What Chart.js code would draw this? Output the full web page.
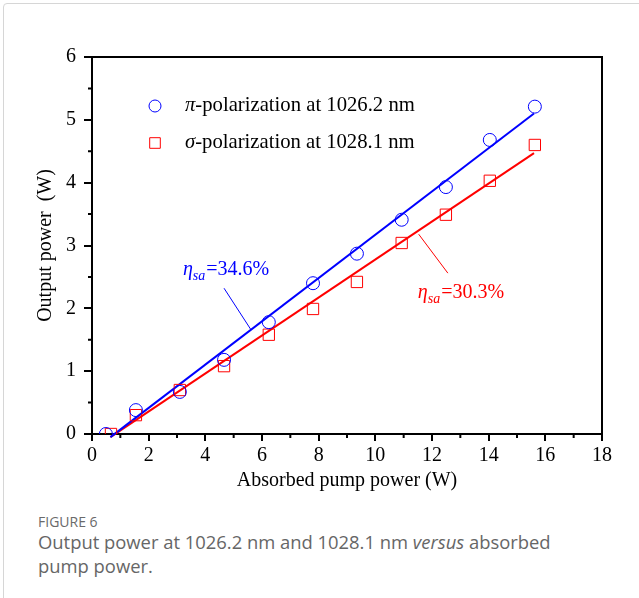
<!DOCTYPE html>
<html><head><meta charset="utf-8">
<script src="https://cdn.jsdelivr.net/npm/chart.js@4"></script>
<style>
html,body{margin:0;padding:0;background:#fff;}
body{width:639px;height:598px;position:relative;overflow:hidden;}
#frame{position:absolute;left:3px;top:3px;width:700px;height:700px;border:1px solid #d6d6d6;border-radius:4px;}
#wrap{position:absolute;left:0;top:0;width:639px;height:500px;}
.cap{position:absolute;left:38px;font-family:"Open Sans",sans-serif;color:#666;white-space:nowrap;}
</style></head><body>
<div id="frame"></div>
<div id="wrap"><canvas id="c" width="639" height="500"></canvas></div>
<div class="cap" style="top:512px;font-size:14px;line-height:20px;color:#6a6a6a">FIGURE 6</div>
<div class="cap" style="top:530px;font-size:18.4px;line-height:24px;">Output power at 1026.2 nm and 1028.1 nm <i>versus</i> absorbed<br>pump power.</div>
<script>
// ---- data ----
const seriesLabels = ['π-polarization at 1026.2 nm', 'σ-polarization at 1028.1 nm'];
const pumpPi     = [0.49, 1.55, 3.10, 4.66, 6.24, 7.80, 9.35, 10.93, 12.49, 14.04, 15.63];
const powerPi    = [0.00, 0.38, 0.67, 1.18, 1.78, 2.40, 2.87, 3.41, 3.93, 4.68, 5.21];
const pumpSigma  = [0.67, 1.55, 3.10, 4.66, 6.24, 7.80, 9.35, 10.93, 12.49, 14.04, 15.63];
const powerSigma = [0.00, 0.30, 0.70, 1.08, 1.58, 1.99, 2.42, 3.04, 3.49, 4.03, 4.60];
const fitPiX = [0.65, 15.60];
const fitPiY = [-0.05, 5.10];
const fitSigmaX = [0.65, 15.60];
const fitSigmaY = [-0.05, 4.47];
const slopeLabels = ['34.6%', '30.3%'];
const slopeTextAt = [[3.21, 2.53], [11.50, 2.17]];
const slopeLeader = [[[4.66, 2.32], [5.61, 1.66]], [[11.53, 3.18], [12.56, 2.56]]];
const xTickValues = [0, 2, 4, 6, 8, 10, 12, 14, 16, 18];
const yTickValues = [0, 1, 2, 3, 4, 5, 6];
const xMinorTicks = [1, 3, 5, 7, 9, 11, 13, 15, 17];
const yMinorTicks = [0.5, 1.5, 2.5, 3.5, 4.5, 5.5];
const xTitle = 'Absorbed pump power (W)';
const yTitle = 'Output power  (W)';

const BLUE = '#0000ff', RED = '#ff0000';
const SERIF = '"Liberation Serif", "Times New Roman", serif';
const toXY = (xs, ys) => xs.map((x, i) => ({x, y: ys[i]}));

const framePlugin = {
  id: 'frame',
  afterDatasetsDraw(chart) {
    const {ctx, chartArea: a, scales: {x, y}} = chart;
    ctx.save();
    ctx.strokeStyle = '#000';
    ctx.lineWidth = 2;
    ctx.beginPath();
    ctx.moveTo(a.left, a.top); ctx.lineTo(a.right, a.top); ctx.lineTo(a.right, a.bottom);
    xMinorTicks.forEach(v => { const p = x.getPixelForValue(v); ctx.moveTo(p, a.bottom); ctx.lineTo(p, a.bottom + 4); });
    yMinorTicks.forEach(v => { const p = y.getPixelForValue(v); ctx.moveTo(a.left, p); ctx.lineTo(a.left - 4, p); });
    ctx.stroke();

    // legend
    const rows = [{ds: chart.data.datasets[0], dy: 49}, {ds: chart.data.datasets[1], dy: 86}];
    rows.forEach((r, i) => {
      const cx = a.left + 63, cy = a.top + r.dy;
      ctx.strokeStyle = r.ds.borderColor; ctx.fillStyle = 'rgba(0,0,0,0)'; ctx.lineWidth = 1;
      Chart.helpers.drawPoint(ctx, {pointStyle: r.ds.pointStyle, radius: i === 0 ? 6 : 7.5, borderWidth: 1}, cx, cy);
      const label = r.ds.label;
      ctx.fillStyle = '#000';
      ctx.textBaseline = 'middle';
      ctx.textAlign = 'left';
      let tx = a.left + 93;
      ctx.font = 'italic 20.7px ' + SERIF;
      ctx.fillText(label[0], tx, cy);
      tx += ctx.measureText(label[0]).width;
      ctx.font = '20.7px ' + SERIF;
      ctx.fillText(label.slice(1), tx, cy);
    });

    // slope annotations
    const colors = [BLUE, RED];
    slopeLabels.forEach((lab, i) => {
      ctx.strokeStyle = colors[i]; ctx.fillStyle = colors[i]; ctx.lineWidth = 1;
      const [[x1, y1], [x2, y2]] = slopeLeader[i];
      ctx.beginPath();
      ctx.moveTo(x.getPixelForValue(x1), y.getPixelForValue(y1));
      ctx.lineTo(x.getPixelForValue(x2), y.getPixelForValue(y2));
      ctx.stroke();
      let tx = x.getPixelForValue(slopeTextAt[i][0]);
      const ty = y.getPixelForValue(slopeTextAt[i][1]);
      ctx.textBaseline = 'alphabetic'; ctx.textAlign = 'left';
      ctx.font = 'italic 20px ' + SERIF;
      ctx.fillText('η', tx, ty); tx += ctx.measureText('η').width;
      ctx.font = 'italic 14px ' + SERIF;
      ctx.fillText('sa', tx, ty + 5); tx += ctx.measureText('sa').width + 1;
      ctx.font = '20px ' + SERIF;
      ctx.fillText('=' + lab, tx, ty);
    });
    ctx.restore();
  }
};

const axisCommon = {
  type: 'linear',
  grid: {display: true, drawOnChartArea: false, drawTicks: true, color: '#000', tickWidth: 2, lineWidth: 2},
  border: {display: true, color: '#000', width: 2},
};

new Chart(document.getElementById('c'), {
  type: 'scatter',
  data: {
    datasets: [
      {label: seriesLabels[0], data: toXY(pumpPi, powerPi), pointStyle: 'circle', pointRadius: 6.5,
       borderColor: BLUE, backgroundColor: 'rgba(0,0,0,0)', pointBorderWidth: 1, borderWidth: 1},
      {label: seriesLabels[1], data: toXY(pumpSigma, powerSigma), pointStyle: 'rect', pointRadius: 8,
       borderColor: RED, backgroundColor: 'rgba(0,0,0,0)', pointBorderWidth: 1, borderWidth: 1},
      {label: 'fitPi', data: toXY(fitPiX, fitPiY), showLine: true, pointRadius: 0, borderColor: BLUE, borderWidth: 2, clip: false},
      {label: 'fitSigma', data: toXY(fitSigmaX, fitSigmaY), showLine: true, pointRadius: 0, borderColor: RED, borderWidth: 2, clip: false}
    ]
  },
  options: {
    responsive: false, animation: false,
    layout: {padding: {left: 0, right: 37, top: 57, bottom: 0}},
    plugins: {legend: {display: false}, tooltip: {enabled: false}},
    scales: {
      x: Object.assign({}, axisCommon, {
        min: 0, max: 18,
        grid: Object.assign({}, axisCommon.grid, {tickLength: 7}),
        afterBuildTicks: s => { s.ticks = xTickValues.map(v => ({value: v})); },
        ticks: {color: '#000', font: {family: SERIF, size: 20}, padding: 3, maxRotation: 0, autoSkip: false},
        title: {display: true, text: xTitle, color: '#000', font: {family: SERIF, size: 20}, padding: {top: 0, bottom: 7}},
        afterFit: s => { s.height = 66; }
      }),
      y: Object.assign({}, axisCommon, {
        min: 0, max: 6,
        grid: Object.assign({}, axisCommon.grid, {tickLength: 8}),
        afterBuildTicks: s => { s.ticks = yTickValues.map(v => ({value: v})); },
        ticks: {color: '#000', font: {family: SERIF, size: 20}, padding: 8, autoSkip: false},
        title: {display: true, text: yTitle, color: '#000', font: {family: SERIF, size: 20}, padding: {top: 34, bottom: 0}},
        afterFit: s => { s.width = 92; }
      })
    }
  },
  plugins: [framePlugin]
});
</script>
</body></html>
